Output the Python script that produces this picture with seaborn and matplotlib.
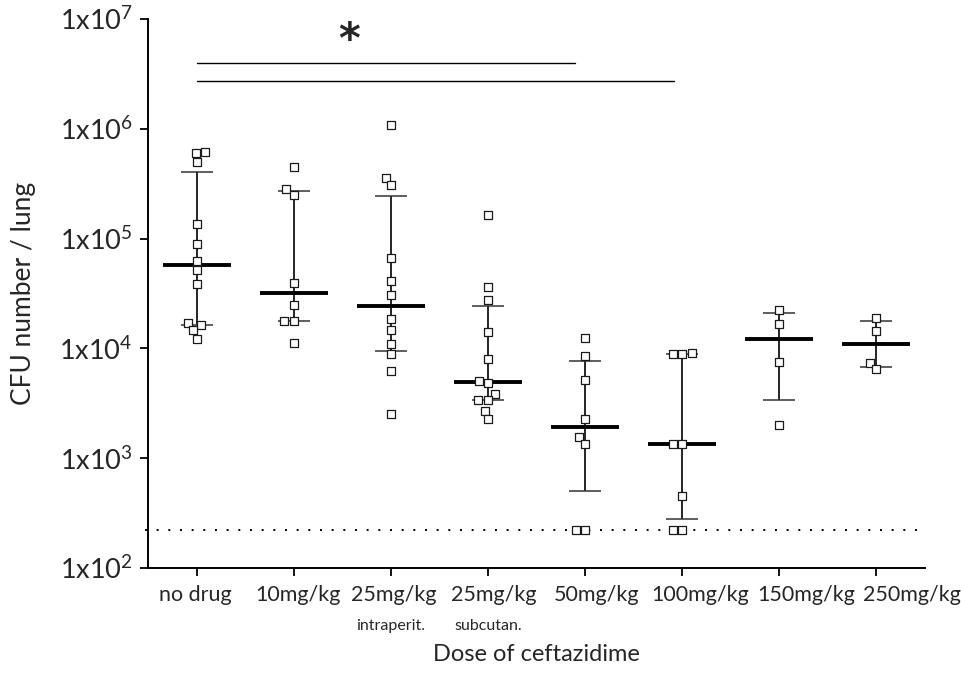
import numpy as np
import pandas as pd
import matplotlib
matplotlib.use("Agg")
import matplotlib.pyplot as plt
from matplotlib.ticker import NullLocator
import matplotlib.transforms as mtransforms
import seaborn as sns

# CFU counts per lung for each treatment group
no_drug = [6.1e5, 5.98e5, 4.95e5, 1.35e5, 8.87e4, 6.25e4, 5.14e4, 3.86e4, 1.71e4, 1.63e4, 1.47e4, 1.23e4]
dose_10 = [4.46e5, 2.81e5, 2.51e5, 3.94e4, 2.50e4, 1.79e4, 1.79e4, 1.11e4]
dose_25_ip = [1.08e6, 3.59e5, 3.06e5, 6.62e4, 4.11e4, 3.05e4, 1.85e4, 1.47e4, 1.09e4, 8.89e3, 6.27e3, 2.51e3]
dose_25_sc = [1.64e5, 3.62e4, 2.76e4, 1.40e4, 8.0e3, 5.01e3, 4.87e3, 3.84e3, 3.39e3, 3.36e3, 2.71e3, 2.26e3]
dose_50 = [1.24e4, 8.53e3, 5.15e3, 2.26e3, 1.57e3, 1.35e3, 220, 220]
dose_100 = [9.14e3, 8.89e3, 8.89e3, 1.34e3, 1.34e3, 453, 220, 220]
dose_150 = [2.24e4, 1.67e4, 7.47e3, 2.01e3]
dose_250 = [1.90e4, 1.45e4, 7.41e3, 6.49e3]

group_keys = ["none", "10", "25ip", "25sc", "50", "100", "150", "250"]
tick_labels = ["no drug", "10mg/kg", "25mg/kg", "25mg/kg", "50mg/kg", "100mg/kg", "150mg/kg", "250mg/kg"]
route_labels = {2: "intraperit.", 3: "subcutan."}
detection_limit = 220
y_ticks = [1e2, 1e3, 1e4, 1e5, 1e6, 1e7]
y_tick_labels = [r"1x10$^{2}$", r"1x10$^{3}$", r"1x10$^{4}$", r"1x10$^{5}$", r"1x10$^{6}$", r"1x10$^{7}$"]

groups = dict(zip(group_keys, [no_drug, dose_10, dose_25_ip, dose_25_sc,
                               dose_50, dose_100, dose_150, dose_250]))
df = pd.DataFrame([(k, v) for k in group_keys for v in groups[k]], columns=["group", "cfu"])

sns.set_style("ticks")
plt.rcParams["font.family"] = ["Lato", "DejaVu Sans"]
plt.rcParams["mathtext.fontset"] = "custom"
plt.rcParams["mathtext.rm"] = "Lato"
plt.rcParams["mathtext.it"] = "Lato:italic"
plt.rcParams["mathtext.bf"] = "Lato:bold"

fig = plt.figure(figsize=(9.62, 6.82), dpi=100)
ax = fig.add_axes([148 / 962, 1 - 568 / 682, 777 / 962, 549 / 682])
ax.set_yscale("log")
ax.set_xlim(-0.5, 7.5)
ax.set_ylim(1e2, 1e7)

# individual animals
sns.swarmplot(data=df, x="group", y="cfu", order=group_keys, marker="s",
              color="white", edgecolor="#1a1a1a", linewidth=0.9, size=5.6,
              ax=ax, zorder=5)
ax.set_xlim(-0.5, 7.5)
ax.set_ylim(1e2, 1e7)

# median with interquartile range
for i, key in enumerate(group_keys):
    vals = np.asarray(groups[key], dtype=float)
    med = np.median(vals)
    q1, q3 = np.percentile(vals, [25, 75], method="weibull")
    ax.vlines(i, q1, q3, color="black", lw=1.2, zorder=2)
    ax.hlines([q1, q3], i - 0.165, i + 0.165, color="#333333", lw=1.1, zorder=2)
    ax.hlines(med, i - 0.35, i + 0.35, color="black", lw=2.8, zorder=3)

# detection limit
ax.plot([-0.53, 7.5], [detection_limit, detection_limit], color="black",
        lw=1.4, ls=(0, (1, 5)), clip_on=False, zorder=1)

# significance brackets
ax.plot([0, 3.9], [4.0e6, 4.0e6], color="black", lw=1.0)
ax.plot([0, 4.92], [2.72e6, 2.72e6], color="black", lw=1.0)
ax.text(1.57, 6.3e6, "*", fontsize=30, fontweight="bold", ha="center",
        va="center", family="DejaVu Sans")

# axes styling
ax.set_yticks(y_ticks)
ax.set_yticklabels(y_tick_labels, fontsize=19.5)
ax.yaxis.set_minor_locator(NullLocator())
ax.set_xticks(range(len(group_keys)))
ax.set_xticklabels(tick_labels, fontsize=15.5)
ax.tick_params(axis="both", direction="out", length=6, width=1.3, color="black")
ax.tick_params(axis="x", pad=6)
ax.tick_params(axis="y", pad=5)
for side in ("left", "bottom"):
    ax.spines[side].set_linewidth(1.4)
    ax.spines[side].set_color("black")
sns.despine(ax=ax)

# category names are spread a little wider than the ticks
label_shift_px = [-1, 4, 3, 6, 11, 18, 27, 36]
for lab, dx in zip(ax.get_xticklabels(), label_shift_px):
    lab.set_transform(lab.get_transform()
                      + mtransforms.ScaledTranslation(dx / 100, 0, fig.dpi_scale_trans))

trans = mtransforms.blended_transform_factory(ax.transData, ax.transAxes)
for pos, text in route_labels.items():
    ax.text(pos, -0.106, text, transform=trans, ha="center", va="center", fontsize=11.5)

ax.set_xlabel("Dose of ceftazidime", fontsize=17)
ax.set_ylabel("CFU number / lung", fontsize=19)
ax.xaxis.set_label_coords(0.5, -0.139)
ax.yaxis.set_label_coords(-0.144, 0.5)

fig.savefig("out.png", dpi=100)
